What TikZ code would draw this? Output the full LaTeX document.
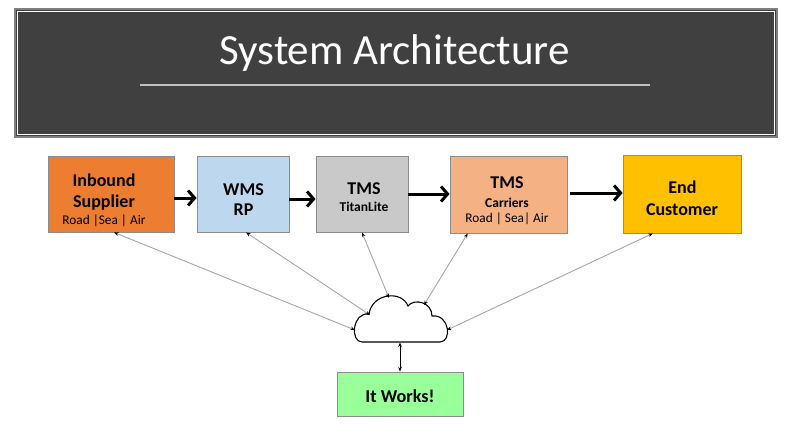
\documentclass[tikz,border=0pt]{standalone}
\usepackage{fontspec}
\setmainfont{Carlito}
\usetikzlibrary{arrows.meta,calc}
\definecolor{titlebg}{HTML}{404040}
\definecolor{frameout}{HTML}{7F7F7F}
\definecolor{rulecol}{HTML}{BFBFBF}
\definecolor{boxline}{HTML}{8C8C8C}
\definecolor{inbcol}{HTML}{ED7D31}
\definecolor{wmscol}{HTML}{BDD7EE}
\definecolor{titcol}{HTML}{C9C9C9}
\definecolor{carcol}{HTML}{F4B183}
\definecolor{endcol}{HTML}{FFC000}
\definecolor{workcol}{HTML}{99FF99}
\definecolor{linkcol}{HTML}{A6A6A6}
\begin{document}
\begin{tikzpicture}[x=1pt,y=-1pt,
  box/.style={draw=boxline,line width=0.9pt,inner sep=0pt},
  bigtxt/.style={anchor=base,inner sep=0pt,font=\fontsize{18}{20}\selectfont\bfseries,text=black},
  midtxt/.style={anchor=base,inner sep=0pt,font=\fontsize{13.5}{15}\selectfont\bfseries,text=black},
  smalltxt/.style={anchor=base,inner sep=0pt,font=\fontsize{13.3}{15}\selectfont,text=black},
  flow/.style={line width=3pt,-{Straight Barb[length=6.5pt,width=15pt]}},
  link/.style={draw=linkcol,line width=0.9pt,{Stealth[length=4.5pt,width=3.5pt,color=black]}-{Stealth[length=4.5pt,width=3.5pt,color=black]}}]
\useasboundingbox (0,0) rectangle (795,425);
% title frame
\node[fill=titlebg,draw=frameout,line width=1.2pt,minimum width=762pt,minimum height=128pt,inner sep=0pt] (frame) at (396,73) {};
\draw[white,line width=0.9pt] (17.2,11.2) rectangle (774.8,134.8);
\node[anchor=base,inner sep=0pt,text=white,font=\fontsize{43}{48}\selectfont] (title) at (394.5,65) {System Architecture};
\draw[rulecol,line width=1.5pt] (140,85) -- (650,85);
% boxes
\node[box,fill=inbcol,minimum width=126pt,minimum height=76pt] (inb) at (111,194) {};
\node[box,fill=wmscol,minimum width=92pt,minimum height=76pt] (wms) at (243,194) {};
\node[box,fill=titcol,minimum width=92pt,minimum height=76pt] (tit) at (362,194) {};
\node[box,fill=carcol,minimum width=117pt,minimum height=77pt] (car) at (508.5,194.5) {};
\node[box,fill=endcol,minimum width=118pt,minimum height=78pt] (end) at (682,194) {};
\node[box,fill=workcol,minimum width=126pt,minimum height=44pt] (works) at (400,394) {};
% texts
\node[bigtxt] (inbA) at (104,186) {Inbound};
\node[bigtxt] (inbB) at (104,207) {Supplier};
\node[smalltxt] (inbC) at (104,224) {Road |Sea | Air};
\node[bigtxt] (wmsA) at (243.5,195) {WMS};
\node[bigtxt] (wmsB) at (243.5,215) {RP};
\node[bigtxt] (titA) at (364,194) {TMS};
\node[midtxt] (titB) at (364,211) {TitanLite};
\node[bigtxt] (carA) at (507,188) {TMS};
\node[midtxt] (carB) at (507,207) {Carriers};
\node[smalltxt] (carC) at (507,222.5) {Road | Sea| Air};
\node[bigtxt] (endA) at (682.5,193) {End};
\node[bigtxt] (endB) at (682,215) {Customer};
\node[bigtxt,font=\fontsize{18.2}{20}\selectfont\bfseries] (worksT) at (400,402) {It Works!};
% flow arrows
\draw[flow] ([yshift=-4pt]inb.east) -- ([yshift=-4pt]wms.west);
\draw[flow] ([yshift=-5pt]wms.east) -- ([yshift=-5pt]tit.west);
\draw[flow] (tit.east) -- ([yshift=0.5pt]car.west);
\draw[flow] ([xshift=3pt,yshift=1.5pt]car.east) -- ([yshift=1pt]end.west);
% cloud
\draw[line width=1.1pt,fill=white] (362,342) .. controls (350,342) and (352,312) .. (369,314)
  .. controls (372,293) and (402,290) .. (408,306)
  .. controls (414,298) and (432,302) .. (432,316)
  .. controls (450,314) and (452,342) .. (440,342) -- cycle;
\coordinate (cl1) at (355,330);
\coordinate (cl2) at (370,315);
\coordinate (cl3) at (389,298);
\coordinate (cl4) at (424,305);
\coordinate (cl5) at (447,330);
\coordinate (cl6) at (400,342.5);
% links
\draw[link] ($(inb.south west)!0.524!(inb.south east)$) -- (cl1);
\draw[link] ($(wms.south west)!0.533!(wms.south east)$) -- (cl2);
\draw[link] ($(tit.south west)!0.5!(tit.south east)$) -- (cl3);
\draw[link] ($(car.south west)!0.154!(car.south east)$) -- (cl4);
\draw[link] ($(end.south west)!0.254!(end.south east)$) -- (cl5);
\draw[link,draw=black,line width=0.8pt] (cl6) -- (works.north);
\end{tikzpicture}
\end{document}
